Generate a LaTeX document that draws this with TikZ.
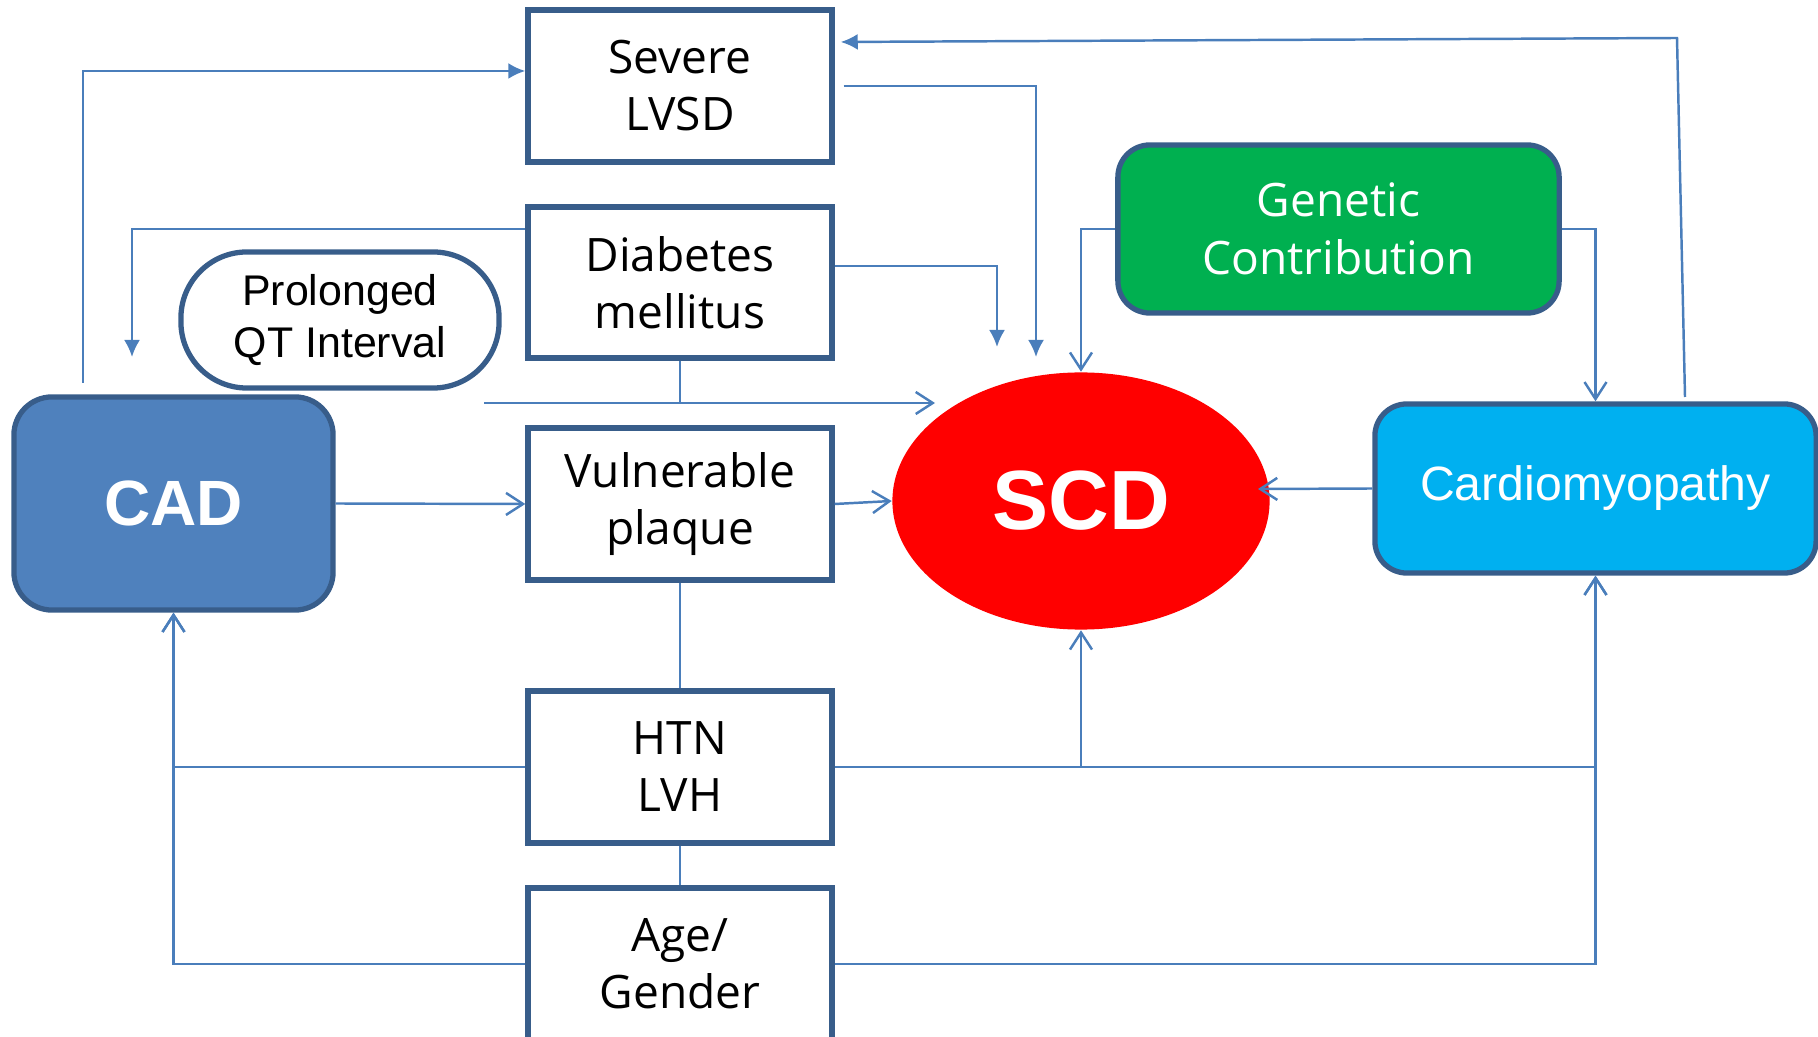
\documentclass[tikz,border=0pt]{standalone}
\usepackage{fontspec}
\setmainfont{Open Sans}
\newfontfamily\arialf{Liberation Sans}
\usetikzlibrary{arrows.meta,shapes.geometric}
\definecolor{conncol}{HTML}{4A7EBB}
\definecolor{bordercol}{HTML}{385D8A}
\definecolor{cadfill}{HTML}{4F81BD}
\definecolor{genfill}{HTML}{00B050}
\definecolor{cmfill}{HTML}{00B0F0}
\begin{document}
\begin{tikzpicture}[x=0.01cm,y=-0.01cm,
  conn/.style={draw=conncol, line width=0.7pt},
  fl/.tip={Latex[length=0.17cm,width=0.16cm]},
  ob/.tip={Straight Barb[length=0.17cm,width=0.22cm]},
  box/.style={draw=bordercol, line width=1.5pt, fill=white, minimum width=3.04cm,
    minimum height=1.52cm, inner sep=0pt, align=center,
    font=\fontsize{13.1}{16.2}\selectfont},
  rbox/.style={draw=bordercol, line width=1.5pt, rounded corners=0.32cm,
    inner sep=0pt, align=center, text=white}]
\useasboundingbox (0,0) rectangle (1818,1037);
\clip (0,0) rectangle (1818,1037);
% nodes
\node[box] (sev) at (680,86) {Severe\\LVSD};
\node[box, minimum height=1.51cm] (dia) at (680,282.5) {Diabetes\\mellitus};
\node[box] (vp) at (680,504) {Vulnerable\\plaque};
\node[box] (htn) at (680,767) {HTN\\LVH};
\node[box] (age) at (680,964) {Age/\\Gender};
\node[rbox, fill=cadfill, rounded corners=0.38cm, minimum width=3.19cm, minimum height=2.13cm,
  font=\arialf\bfseries\fontsize{18.2}{20}\selectfont] (cad) at (173.5,503.5) {CAD};
\node[draw=bordercol, line width=1.5pt, fill=white, rounded corners=0.66cm, minimum width=3.18cm,
  minimum height=1.36cm, inner sep=0pt, align=center,
  font=\arialf\fontsize{12.2}{14.8}\selectfont] (qt) at (340,320) {Prolonged\\QT Interval};
\node[rbox, fill=genfill, minimum width=4.41cm, minimum height=1.68cm,
  font=\fontsize{13.1}{16.6}\selectfont] (gen) at (1338.5,229) {Genetic\\Contribution};
\node[rbox, fill=cmfill, minimum width=4.41cm, minimum height=1.69cm,
  font=\arialf\fontsize{13.7}{16}\selectfont] (cm) at (1595.5,488.5) {Cardiomyopathy};
\node[ellipse, fill=red, draw=none, minimum width=3.77cm, minimum height=2.57cm, inner sep=0pt,
  text=white, font=\arialf\bfseries\fontsize{23.9}{26}\selectfont] (scd) at (1081,501) {SCD};
% free ends
\coordinate (c1) at (83,383);
\coordinate (c2) at (132,357);
\coordinate (c3) at (1036,357);
\coordinate (c4) at (997,347);
\coordinate (c5a) at (484,403);
\coordinate (c5b) at (935,403);
\coordinate (c11) at (1258,489);
\coordinate (c14a) at (1685,397);
\coordinate (c14b) at (1677,38);
% connectors
\draw[conn,-fl] (c1) |- ([yshift=0.15cm]sev.west);
\draw[conn,-fl] ([yshift=0.535cm]dia.west) -| (c2);
\draw[conn,-fl] ([xshift=0.09cm]sev.east) -| (c3);
\draw[conn,-fl] ([yshift=0.165cm]dia.east) -| (c4);
\draw[conn] (dia.south) -- (dia.south |- c5a);
\draw[conn,-ob] (c5a) -- (c5b);
\draw[conn,-ob] (cad.east) -- (vp.west);
\draw[conn,-ob] (vp.east) -- (scd.west);
\draw[conn] (vp.south) -- (htn.north);
\draw[conn] (htn.south) -- (age.north);
\draw[conn,-ob] (htn.west) -| (cad.south);
\draw[conn,-ob] (age.west) -| (cad.south);
\draw[conn,-ob] (htn.east) -| (scd.south);
\draw[conn,-ob] (htn.east) -| (cm.south);
\draw[conn,-ob] (age.east) -| (cm.south);
\draw[conn,-ob] (cm.west) -- (c11);
\draw[conn,-ob] (gen.west) -| (scd.north);
\draw[conn,-ob] (gen.east) -| (cm.north);
\draw[conn,-fl] (c14a) -- (c14b) -- ([xshift=0.06cm,yshift=0.44cm]sev.east);
\end{tikzpicture}
\end{document}
